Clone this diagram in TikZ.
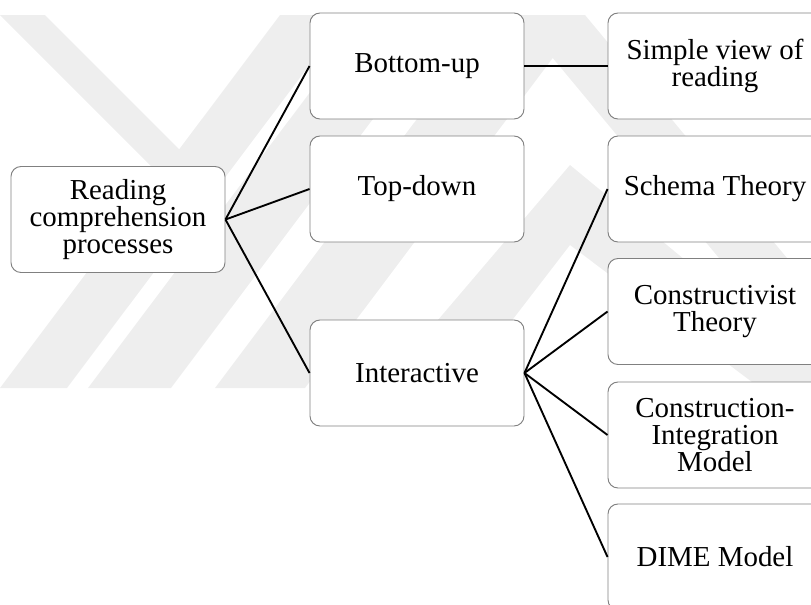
\documentclass[tikz,border=0pt]{standalone}
\usepackage{fontspec}
\setmainfont{Liberation Serif}
\definecolor{filigrane}{gray}{0.935}
\definecolor{bord}{gray}{0.5}

\begin{document}
\begin{tikzpicture}[x=0.03cm, y=-0.03cm,
	bloc/.style={draw=bord, line width=0.8pt, fill=white, rounded corners=0.3cm, minimum width=6.42cm, minimum height=3.18cm, inner sep=0pt, align=center, font=\fontsize{24.7}{23}\selectfont},
	lien/.style={line width=1.6pt}]
\useasboundingbox (0,0) rectangle (811,604);
\clip (0,0) rectangle (811,604);

% filigrane en fond
\fill[filigrane] (0,15) -- (45,15) -- (179,149) -- (198,213) -- cycle;
\fill[filigrane] (0,388) -- (67,388) -- (347,15) -- (280,15) -- cycle;
\fill[filigrane] (88,388) -- (171,388) -- (451,15) -- (368,15) -- cycle;
\fill[filigrane] (215,388) -- (305,388) -- (585,15) -- (495,15) -- cycle;
\fill[filigrane] (517,15) -- (585,15) -- (895,388) -- (827,388) -- cycle;
\fill[filigrane] (380,388) -- (570,165) -- (840,388) -- (760,388) -- (570,245) -- (460,388) -- cycle;

\node[bloc] (racine) at (118,219.5) {Reading\\comprehension\\processes};

\node[bloc] (montant) at (417,66) {Bottom-up};
\node[bloc] (descendant) at (417,189) {Top-down};
\node[bloc] (interactif) at (417,373) {Interactive};

\node[bloc] (svr) at (715,66) {Simple view of\\reading};
\node[bloc] (schema) at (715,189) {Schema Theory};
\node[bloc] (constr) at (715,311.5) {Constructivist\\Theory};
\node[bloc] (ci) at (715,435) {Construction-\\Integration\\Model};
\node[bloc] (dime) at (715,557) {DIME Model};

\draw[lien] (racine.east) -- (montant.west);
\draw[lien] (racine.east) -- (descendant.west);
\draw[lien] (racine.east) -- (interactif.west);
\draw[lien] (montant.east) -- (svr.west);
\foreach \n in {schema, constr, ci, dime}
	\draw[lien] (interactif.east) -- (\n.west);

\end{tikzpicture}
\end{document}
